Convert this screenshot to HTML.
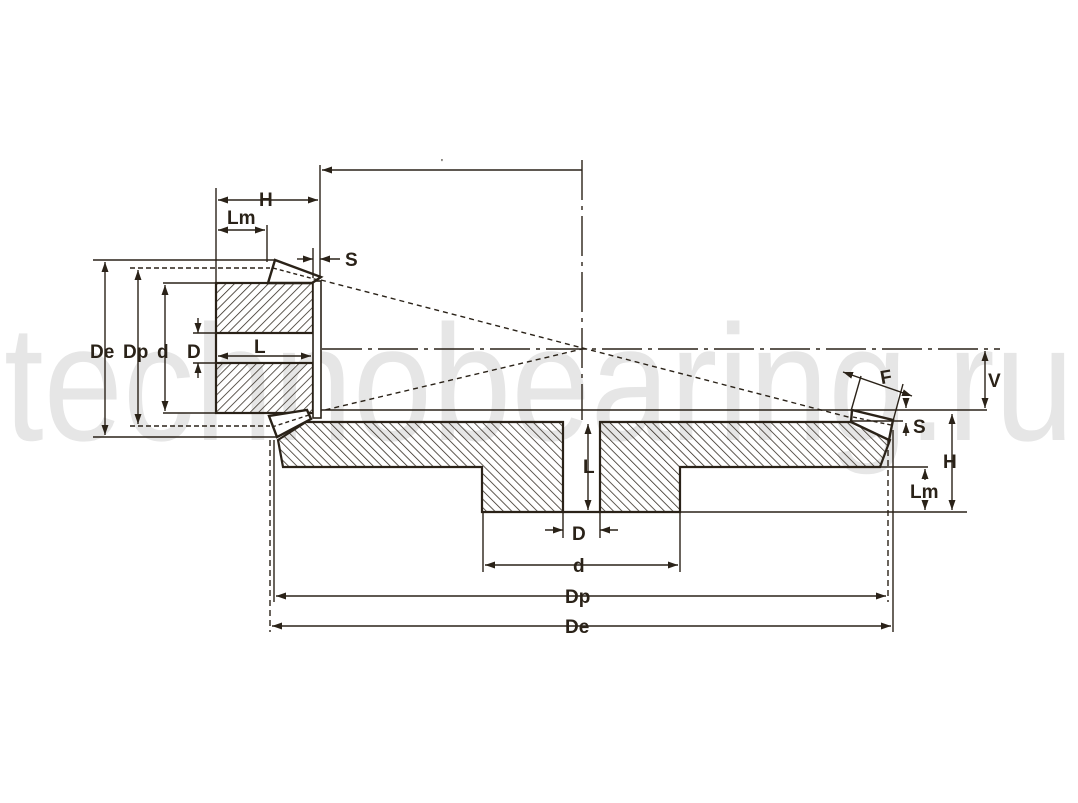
<!DOCTYPE html>
<html><head><meta charset="utf-8"><style>
html,body{margin:0;padding:0;background:#fff;}
svg{display:block;}
text{font-family:"Liberation Sans",Arial,sans-serif;font-weight:bold;fill:#2a2218;}
</style></head><body>
<svg width="1078" height="803" viewBox="0 0 1078 803" xmlns="http://www.w3.org/2000/svg">
<defs>
<pattern id="h1" patternUnits="userSpaceOnUse" width="6" height="6" patternTransform="rotate(45)">
<line x1="0" y1="0" x2="0" y2="6" stroke="#2a2218" stroke-width="1.5"/></pattern>
<pattern id="h2" patternUnits="userSpaceOnUse" width="6" height="6" patternTransform="rotate(-45)">
<line x1="0" y1="0" x2="0" y2="6" stroke="#2a2218" stroke-width="1.5"/></pattern>
<marker id="a" viewBox="0 0 10 10" refX="10" refY="5" markerWidth="10" markerHeight="10" orient="auto-start-reverse" markerUnits="userSpaceOnUse"><path d="M0,1.5 L10,5 L0,8.5 Z" fill="#2a2218"/></marker>
</defs>
<text x="4" y="440" font-size="165" textLength="1070" lengthAdjust="spacingAndGlyphs" style="font-weight:normal;fill:#e6e6e6">technobearing.ru</text>

<g stroke="#2a2218" fill="none" stroke-width="1.4">
<line x1="322" y1="349" x2="1000" y2="349" stroke-dasharray="40,6,4,6"/>
<line x1="582" y1="160" x2="582" y2="420" stroke-dasharray="40,6,4,6"/>
<line x1="321" y1="280" x2="852" y2="418" stroke-dasharray="5,4"/>
<line x1="308" y1="414" x2="582" y2="349" stroke-dasharray="5,4"/>

<rect x="216" y="283" width="97" height="50" fill="url(#h1)" stroke-width="2.2"/>
<rect x="216" y="363" width="97" height="50" fill="url(#h1)" stroke-width="2.2"/>
<line x1="216" y1="333" x2="216" y2="363" stroke-width="2.2"/>
<rect x="313" y="281" width="8" height="137" fill="#fff" stroke-width="1.6"/>
<polygon points="275,260 268,283 312,283 321,277" fill="#fff" stroke-width="2.4"/>
<line x1="273" y1="268" x2="318" y2="280" stroke-dasharray="4,3"/>
<polygon points="269,416 277,437 311,419 307,410" fill="#fff" stroke-width="2.4"/>
<line x1="272" y1="427" x2="309" y2="415" stroke-dasharray="4,3"/>

<polygon points="278,440 306,422 563,422 563,512 482,512 482,467 283,467" fill="url(#h2)" stroke-width="2.2"/>
<polygon points="600,422 852,422 890,440 880,467 680,467 680,512 600,512" fill="url(#h2)" stroke-width="2.2"/>
<line x1="563" y1="512" x2="600" y2="512" stroke-width="2.2"/>
<polygon points="852,410 893,420 889,440 851,422" fill="#fff" stroke-width="2.4"/>
<line x1="853" y1="417" x2="891" y2="425" stroke-dasharray="4,3"/>

<line x1="321" y1="410" x2="987" y2="410"/>
<line x1="852" y1="421" x2="903" y2="421"/>
<line x1="880" y1="467" x2="928" y2="467"/>
<line x1="680" y1="512" x2="967" y2="512"/>
<line x1="93" y1="260" x2="275" y2="260"/>
<line x1="130" y1="268" x2="270" y2="268" stroke-dasharray="5,3"/>
<line x1="163" y1="283" x2="216" y2="283"/>
<line x1="163" y1="413" x2="216" y2="413"/>
<line x1="130" y1="426" x2="270" y2="426" stroke-dasharray="5,3"/>
<line x1="93" y1="437" x2="276" y2="437"/>
<line x1="193" y1="333" x2="216" y2="333"/>
<line x1="193" y1="363" x2="216" y2="363"/>

<line x1="216" y1="188" x2="216" y2="283"/>
<line x1="320" y1="165" x2="320" y2="276"/>
<line x1="313" y1="248" x2="313" y2="278"/>
<line x1="267" y1="225" x2="267" y2="262"/>
<line x1="270" y1="440" x2="270" y2="632" stroke-dasharray="6,4"/>
<line x1="274" y1="440" x2="274" y2="602"/>
<line x1="888" y1="440" x2="888" y2="602" stroke-dasharray="6,4"/>
<line x1="893" y1="430" x2="893" y2="632"/>
<line x1="483" y1="512" x2="483" y2="572"/>
<line x1="680" y1="512" x2="680" y2="572"/>
<line x1="563" y1="512" x2="563" y2="538"/>
<line x1="600" y1="512" x2="600" y2="538"/>

<line x1="322" y1="170" x2="582" y2="170" marker-start="url(#a)"/>
<line x1="218" y1="200" x2="318" y2="200" marker-start="url(#a)" marker-end="url(#a)"/>
<line x1="218" y1="230" x2="265" y2="230" marker-start="url(#a)" marker-end="url(#a)"/>
<line x1="297" y1="259" x2="313" y2="259" marker-end="url(#a)"/>
<line x1="340" y1="259" x2="320" y2="259" marker-end="url(#a)"/>
<line x1="105" y1="262" x2="105" y2="435" marker-start="url(#a)" marker-end="url(#a)"/>
<line x1="138" y1="270" x2="138" y2="424" marker-start="url(#a)" marker-end="url(#a)"/>
<line x1="165" y1="285" x2="165" y2="411" marker-start="url(#a)" marker-end="url(#a)"/>
<line x1="198" y1="318" x2="198" y2="333" marker-end="url(#a)"/>
<line x1="198" y1="378" x2="198" y2="363" marker-end="url(#a)"/>
<line x1="218" y1="356" x2="311" y2="356" marker-start="url(#a)" marker-end="url(#a)"/>
<line x1="588" y1="424" x2="588" y2="510" marker-start="url(#a)" marker-end="url(#a)"/>
<line x1="545" y1="530" x2="563" y2="530" marker-end="url(#a)"/>
<line x1="618" y1="530" x2="600" y2="530" marker-end="url(#a)"/>
<line x1="485" y1="565" x2="678" y2="565" marker-start="url(#a)" marker-end="url(#a)"/>
<line x1="276" y1="596" x2="886" y2="596" marker-start="url(#a)" marker-end="url(#a)"/>
<line x1="272" y1="626" x2="891" y2="626" marker-start="url(#a)" marker-end="url(#a)"/>
<line x1="985" y1="351" x2="985" y2="408" marker-start="url(#a)" marker-end="url(#a)"/>
<line x1="952" y1="414" x2="952" y2="510" marker-start="url(#a)" marker-end="url(#a)"/>
<line x1="925" y1="480" x2="925" y2="469" marker-end="url(#a)"/>
<line x1="925" y1="500" x2="925" y2="510" marker-end="url(#a)"/>
<line x1="906" y1="436" x2="906" y2="423" marker-end="url(#a)"/>
<line x1="906" y1="398" x2="906" y2="408" marker-end="url(#a)"/>
<line x1="851" y1="411" x2="861" y2="376"/>
<line x1="893" y1="421" x2="903" y2="384"/>
<line x1="843" y1="372" x2="912" y2="396" marker-start="url(#a)" marker-end="url(#a)"/>
</g>

<g font-size="19">
<text x="259" y="206">H</text>
<text x="227" y="224">Lm</text>
<text x="345" y="266">S</text>
<text x="90" y="358">De</text>
<text x="123" y="358">Dp</text>
<text x="157" y="358">d</text>
<text x="187" y="358">D</text>
<text x="254" y="353">L</text>
<text x="441" y="165" font-size="8">'</text>
<text x="583" y="473">L</text>
<text x="572" y="540">D</text>
<text x="573" y="572">d</text>
<text x="565" y="603">Dp</text>
<text x="565" y="633">De</text>
<text x="988" y="387">V</text>
<text x="943" y="468">H</text>
<text x="910" y="498">Lm</text>
<text x="913" y="433">S</text>
<text x="880" y="383" transform="rotate(-10 888 376)">F</text>
</g>
</svg>
</body></html>
